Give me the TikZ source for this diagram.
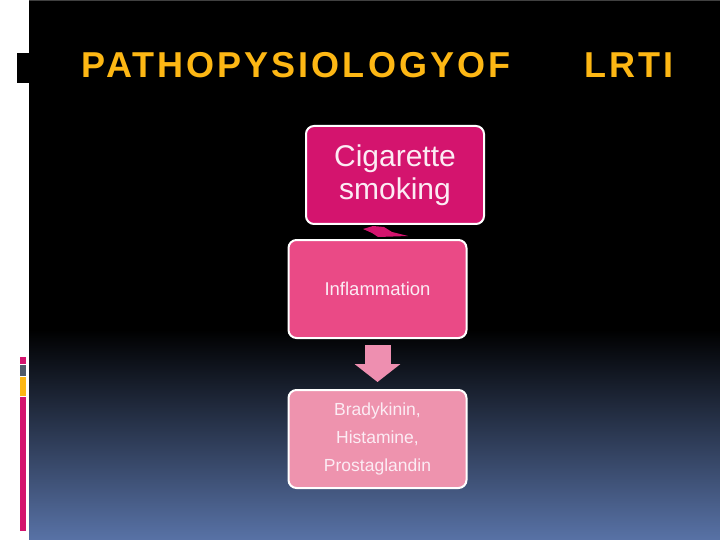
\documentclass[tikz,border=0pt]{standalone}
\usepackage{fontspec}
\setmainfont{Liberation Sans}
\newfontfamily\titlefont[LetterSpace=8.5]{Liberation Sans}
\usetikzlibrary{calc,arrows.meta,positioning}
\definecolor{slideGold}{RGB}{253,183,20}
\definecolor{deepPink}{RGB}{212,20,110}
\definecolor{midPink}{RGB}{234,74,134}
\definecolor{softPink}{RGB}{238,147,174}
\definecolor{arrowPink}{RGB}{238,143,176}
\definecolor{slideBlue}{RGB}{88,114,166}
\definecolor{barGrey}{RGB}{80,90,105}
\definecolor{textPink}{RGB}{252,236,244}
\tikzset{
  stagebox/.style={draw=white,line width=2pt,rounded corners=8pt,minimum width=178pt,minimum height=98pt,align=center,text=textPink,inner sep=2pt},
  blockarrow/.style={draw=arrowPink,line width=26pt,-{Triangle[length=18pt,width=45pt]}},
  slidetitle/.style={anchor=base west,text=slideGold,font=\titlefont\bfseries\fontsize{36}{36}\selectfont,inner sep=0pt}
}
\begin{document}
\begin{tikzpicture}[x=1pt,y=-1pt]
\useasboundingbox (0,0) rectangle (720,540);
% slide background
\fill[white] (0,0) rectangle (720,540);
\fill[black] (29,0) rectangle (720,330);
\shade[top color=black,bottom color=slideBlue] (29,329.5) rectangle (720,540);
\draw[gray!50!black,line width=1pt] (29,0.5) -- (720,0.5);
% left side marks
\fill[black] (17,53) rectangle (28.5,83);
\fill[deepPink] (20,357) rectangle (26,364);
\fill[barGrey] (20,365) rectangle (26,376);
\fill[slideGold] (20,377) rectangle (26,396);
\fill[deepPink] (20,397) rectangle (26,531);
% title
\node[slidetitle] (title) at (81.5,78) {PATHOPYSIOLOGYOF};
\node[slidetitle] (lrti) at (584,78) {LRTI};
% flow
\node[stagebox,fill=deepPink,font=\fontsize{30}{33}\selectfont] (smoke) at (395,175) {Cigarette\\smoking};
\node[stagebox,fill=midPink,font=\fontsize{18.5}{20}\selectfont,below=14pt of smoke,xshift=-17.5pt] (infl) {Inflammation};
\node[stagebox,fill=softPink,font=\fontsize{17.5}{28}\selectfont,below=50pt of infl] (media) {Bradykinin,\\Histamine,\\Prostaglandin};
\fill[deepPink] ($(smoke.south)+(-32,4)$) -- ($(smoke.south)+(-22,1)$) -- ($(smoke.south)+(-11,2)$) -- ($(smoke.south)+(-3,7)$) -- ($(smoke.south)+(13,11)$) -- ($(smoke.south)+(-17,12)$) -- ($(smoke.south)+(-23,8)$) -- cycle;
\draw[blockarrow] ([yshift=-6pt]infl.south) -- ([yshift=7pt]media.north);
\end{tikzpicture}
\end{document}
